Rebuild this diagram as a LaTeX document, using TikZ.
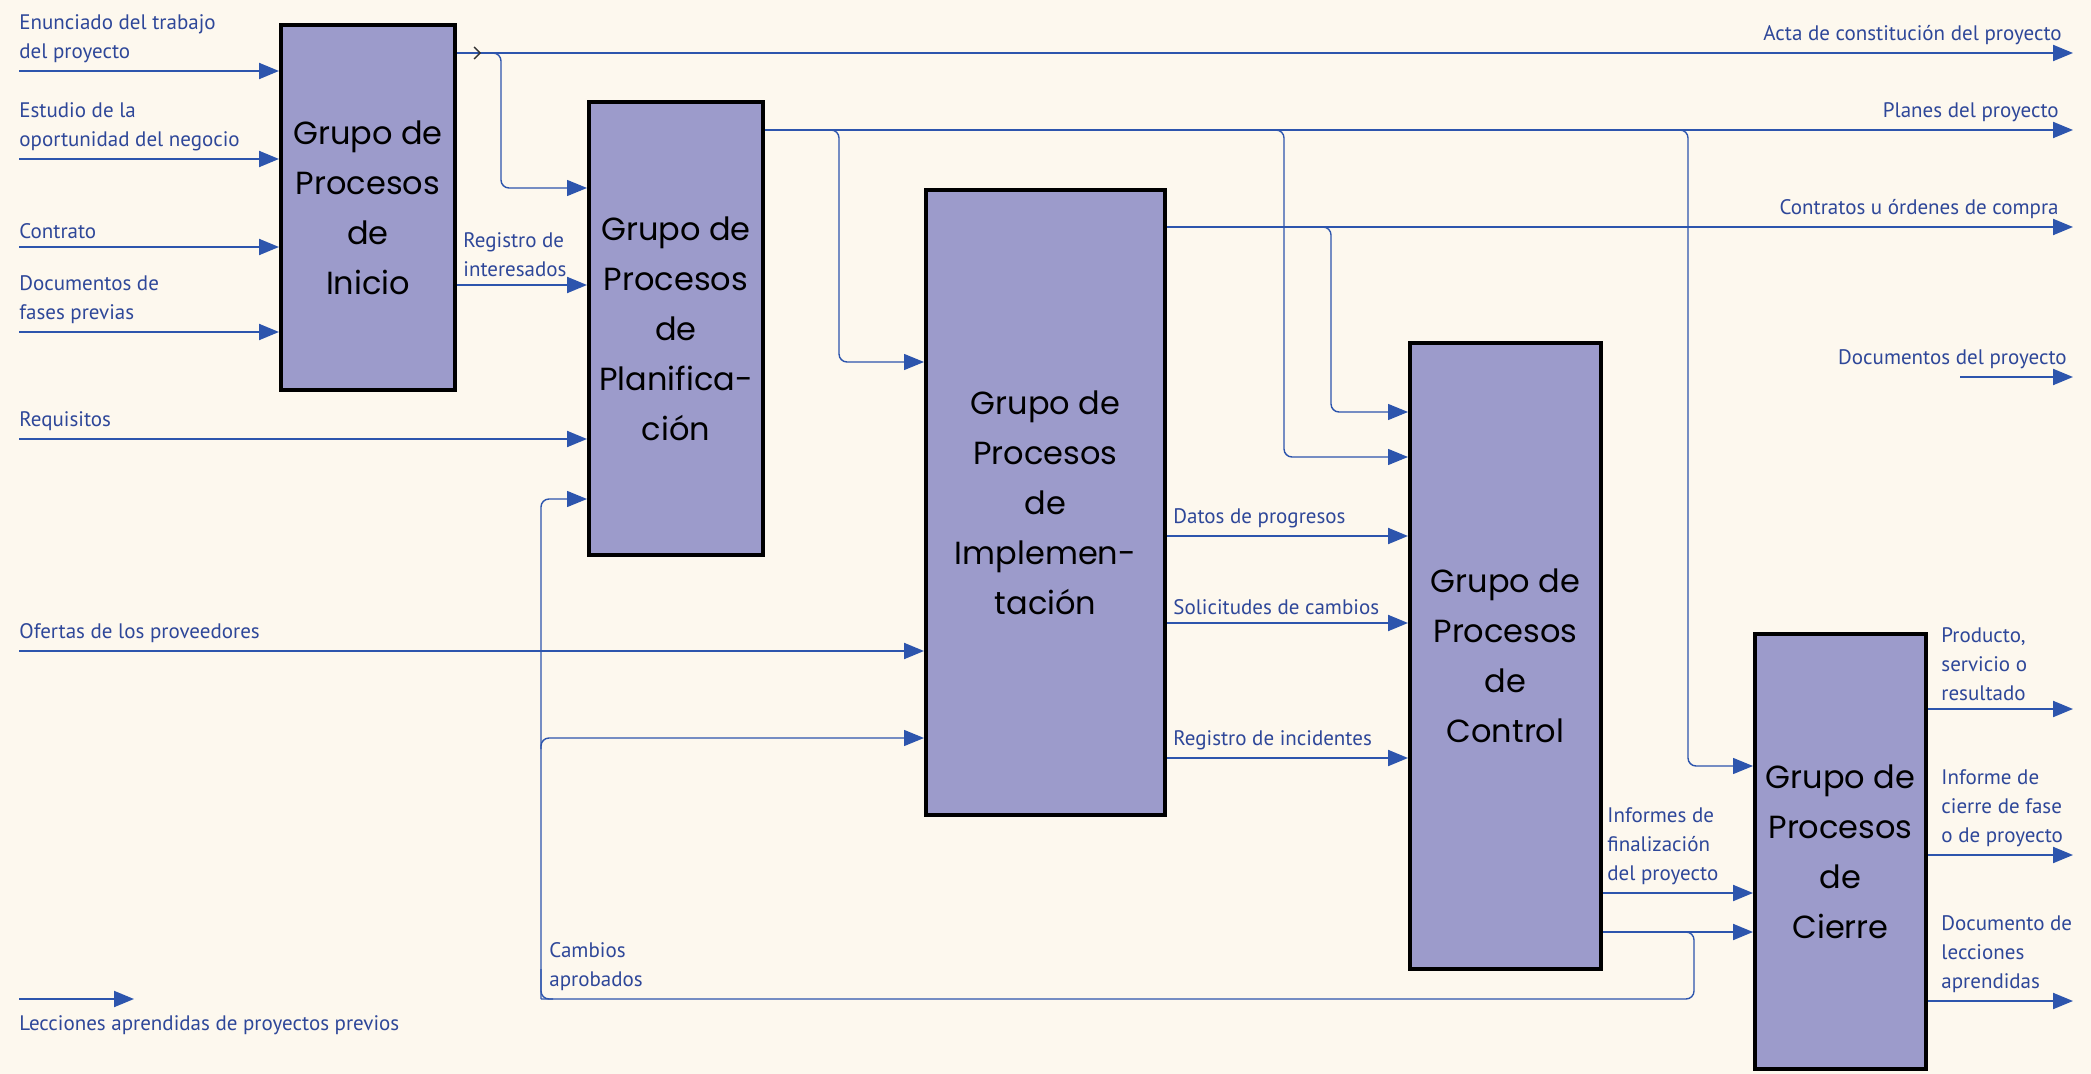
\documentclass[tikz,border=0pt]{standalone}
\usepackage{fontspec}
\setmainfont{PT Sans}
\newfontfamily\grupofont{Poppins}
\usetikzlibrary{positioning}
\usetikzlibrary{calc}
\usetikzlibrary{arrows.meta}
\usetikzlibrary{decorations.markings}

\definecolor{fondo}{HTML}{FDF8EE}
\definecolor{lila}{HTML}{9C9BCB}
\definecolor{azul}{HTML}{2D55AD}
\definecolor{azultxt}{HTML}{2E4799}

\begin{document}
\begin{tikzpicture}[x=0.5pt, y=-0.5pt,
    GRP/.style={rectangle, draw=black, fill=lila, line width=2pt, anchor=north west, align=center,
                font=\grupofont\fontsize{16}{25}\selectfont},
    FLW/.style={draw=azul, line width=1pt, -{Triangle[length=10pt, width=8pt]}},
    RAM/.style={FLW, line width=0.7pt, rounded corners=4pt},
    LBL/.style={text=azultxt, font=\fontsize{10.5}{14.5}\selectfont, align=left, inner xsep=0pt, inner ysep=4pt}]

    \useasboundingbox (0,0) rectangle (2091,1074);
    \fill[fondo] (0,0) rectangle (2091,1074);

    % grupos de procesos
    \node[GRP, minimum width=87pt, minimum height=182.5pt] (Ini) at (279,23)
        {Grupo de\\Procesos\\de\\Inicio};
    \node[GRP, minimum width=87pt, minimum height=226.5pt] (Plan) at (587,100)
        {Grupo de\\Procesos\\de\\Planifica-\\ción};
    \node[GRP, minimum width=119.5pt, minimum height=312.5pt] (Impl) at (924,188)
        {Grupo de\\Procesos\\de\\Implemen-\\tación};
    \node[GRP, minimum width=95.5pt, minimum height=313pt] (Ctrl) at (1408,341)
        {Grupo de\\Procesos\\de\\Control};
    \node[GRP, minimum width=85.5pt, minimum height=217.5pt] (Cier) at (1753,632)
        {Grupo de\\Procesos\\de\\Cierre};

    % extremos libres
    \coordinate (eEnun) at (19,71);
    \coordinate (eEstu) at (19,159);
    \coordinate (eCont) at (19,247);
    \coordinate (eDocu) at (19,332);
    \coordinate (eRequ) at (19,439);
    \coordinate (eOfer) at (19,651);
    \coordinate (eLecc) at (19,999);
    \coordinate (sLecc) at (134,999);
    \coordinate (sActa) at (2073,53);
    \coordinate (sPlan) at (2073,130);
    \coordinate (sCont) at (2073,227);
    \coordinate (eDocP) at (1960,377);
    \coordinate (sDocP) at (2073,377);
    \coordinate (sProd) at (2073,709);
    \coordinate (sInfo) at (2073,855);
    \coordinate (sDocL) at (2073,1001);

    % entradas
    \draw[FLW] (eEnun) -- (eEnun -| Ini.west);
    \draw[FLW] (eEstu) -- (eEstu -| Ini.west);
    \draw[FLW] (eCont) -- (eCont -| Ini.west);
    \draw[FLW] (eDocu) -- (eDocu -| Ini.west);
    \draw[FLW] (eRequ) -- (eRequ -| Plan.west);
    \draw[FLW] (eOfer) -- (eOfer -| Impl.west);
    \draw[FLW] (eLecc) -- (sLecc);

    \node[LBL, anchor=south west] (tEnun) at (eEnun) {Enunciado del trabajo\\del proyecto};
    \node[LBL, anchor=south west] (tEstu) at (eEstu) {Estudio de la\\oportunidad del negocio};
    \node[LBL, anchor=south west] (tCont) at (eCont) {Contrato};
    \node[LBL, anchor=south west] (tDocu) at (eDocu) {Documentos de\\fases previas};
    \node[LBL, anchor=south west] (tRequ) at (eRequ) {Requisitos};
    \node[LBL, anchor=south west] (tOfer) at (eOfer) {Ofertas de los proveedores};
    \node[LBL, anchor=north west] (tLecc) at ($(eLecc)+(0,8)$) {Lecciones aprendidas de proyectos previos};

    % salidas hacia la derecha
    \draw[FLW, postaction={decorate}, decoration={markings,
          mark=at position 12pt with {\arrow[black!80, line width=0.7pt]{Straight Barb[length=3pt, width=6pt]}}}]
        (Ini.east |- sActa) -- (sActa);
    \draw[FLW] (Plan.east |- sPlan) -- (sPlan);
    \draw[FLW] (Impl.east |- sCont) -- (sCont);
    \draw[FLW] (eDocP) -- (sDocP);
    \draw[FLW] (Cier.east |- sProd) -- (sProd);
    \draw[FLW] (Cier.east |- sInfo) -- (sInfo);
    \draw[FLW] (Cier.east |- sDocL) -- (sDocL);

    \node[LBL, anchor=south east] (tActa) at (2062,53) {Acta de constitución del proyecto};
    \node[LBL, anchor=south east] (tPlan) at (2059,130) {Planes del proyecto};
    \node[LBL, anchor=south east] (tCont) at (2059,227) {Contratos u órdenes de compra};
    \node[LBL, anchor=south east] (tDocP) at (2067,377) {Documentos del proyecto};
    \node[LBL, anchor=south west] (tProd) at (1941,709) {Producto,\\servicio o\\resultado};
    \node[LBL, anchor=south west] (tInfo) at (1941,855) {Informe de\\cierre de fase\\o de proyecto};
    \node[LBL, anchor=south west] (tDocL) at (1941,1001) {Documento de\\lecciones\\aprendidas};

    % flujos entre grupos
    \draw[FLW] (Ini.east |- 0,285) -- (Plan.west |- 0,285);
    \draw[FLW] (Impl.east |- 0,536) -- (Ctrl.west |- 0,536);
    \draw[FLW] (Impl.east |- 0,623) -- (Ctrl.west |- 0,623);
    \draw[FLW] (Impl.east |- 0,758) -- (Ctrl.west |- 0,758);
    \draw[FLW] (Ctrl.east |- 0,893) -- (Cier.west |- 0,893);
    \draw[FLW] (Ctrl.east |- 0,932) -- (Cier.west |- 0,932);

    \node[LBL, anchor=south west] (tRegI) at (463,285) {Registro de\\interesados};
    \node[LBL, anchor=south west] (tDato) at (1173,536) {Datos de progresos};
    \node[LBL, anchor=south west] (tSoli) at (1173,623) {Solicitudes de cambios};
    \node[LBL, anchor=south west] (tInci) at (1173,758) {Registro de incidentes};
    \node[LBL, anchor=south west] (tFina) at (1607,893) {Informes de\\finalización\\del proyecto};

    % derivaciones
    \coordinate (jA) at (501,53);
    \coordinate (jB) at (839,130);
    \coordinate (jC) at (1284,130);
    \coordinate (jD) at (1331,227);
    \coordinate (jE) at (1688,130);
    \coordinate (jF) at (1694,932);
    \coordinate (jG) at (541,999);

    \draw[RAM] ($(jA)+(-12,0)$) -- (jA) |- (Plan.west |- 0,188);
    \draw[RAM] ($(jB)+(-12,0)$) -- (jB) |- (Impl.west |- 0,362);
    \draw[RAM] ($(jC)+(-12,0)$) -- (jC) |- (Ctrl.west |- 0,457);
    \draw[RAM] ($(jD)+(-12,0)$) -- (jD) |- (Ctrl.west |- 0,412);
    \draw[RAM] ($(jE)+(-12,0)$) -- (jE) |- (Cier.west |- 0,766);

    % cambios aprobados
    \draw[RAM, -] ($(jF)+(-12,0)$) -- (jF) |- (jG);
    \draw[RAM] (jG) -- ++(0,-20) |- (Plan.west |- 0,499);
    \draw[RAM] ($(jG)+(0,-250)$) |- (Impl.west |- 0,738);
    \draw[azul, line width=0.7pt, rounded corners=4pt] ($(jG)+(12,0)$) -- (jG) -- ++(0,-30);
    \node[LBL, anchor=south west] (tCamb) at ($(jG)+(8,0)$) {Cambios\\aprobados};
\end{tikzpicture}
\end{document}
